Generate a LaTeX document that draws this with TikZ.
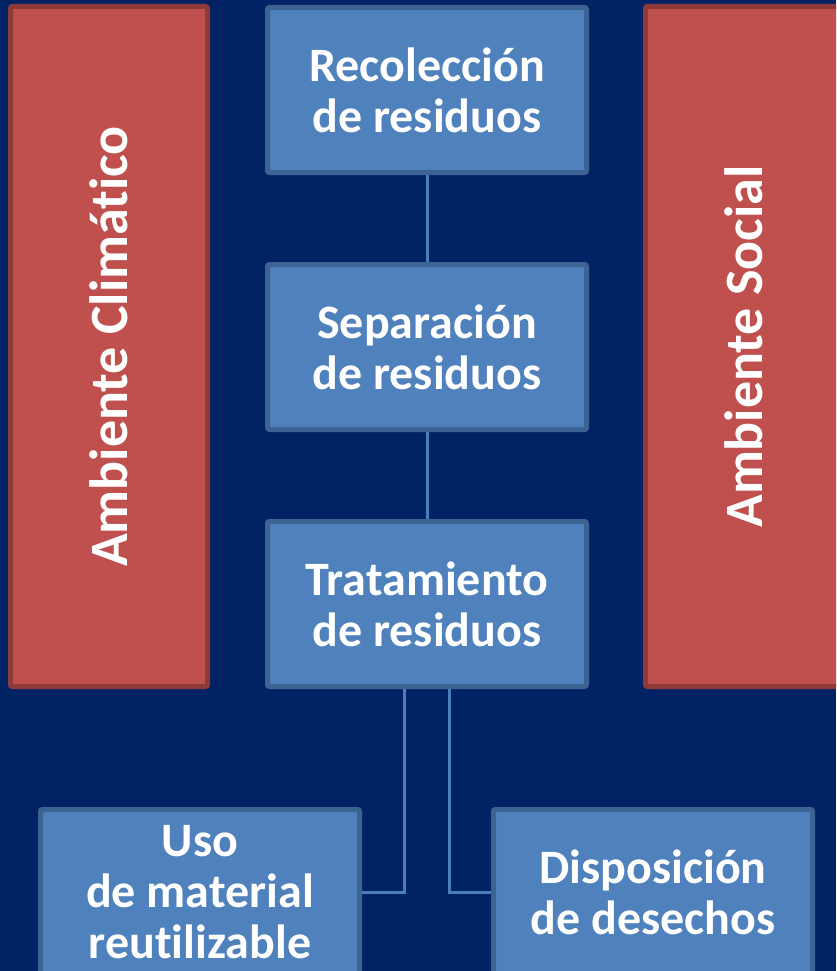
\documentclass[tikz,border=0pt]{standalone}
\usepackage{fontspec}
\setmainfont{Carlito}[Ligatures={NoCommon}]
\definecolor{bg}{HTML}{022266}
\definecolor{bfill}{HTML}{4F81BD}
\definecolor{bline}{HTML}{3C6391}
\definecolor{rfill}{HTML}{C0504D}
\definecolor{rline}{HTML}{8E3A38}
\definecolor{cline}{HTML}{4A7EBB}
\tikzset{
  bluebox/.style={draw=bline, fill=bfill, line width=5pt, rounded corners=2pt,
    minimum width=319pt, minimum height=165pt, inner sep=0pt,
    text=white, align=center, font=\bfseries\fontsize{48}{51}\selectfont},
  redbox/.style={draw=rline, fill=rfill, line width=5pt, rounded corners=2pt,
    minimum width=680pt, minimum height=197pt, inner sep=0pt, rotate=90,
    text=white, align=center, font=\bfseries\fontsize{54}{58}\selectfont},
  conn/.style={draw=cline, line width=3pt}
}
\begin{document}
\begin{tikzpicture}[x=1pt,y=-1pt]
\fill[bg] (0,0) rectangle (836,971);
\useasboundingbox (0,0) rectangle (836,971);
\clip (0,0) rectangle (836,971);
\node[redbox] (rl) at (109,346.5) {Ambiente Climático};
\node[redbox] (rr) at (744,346.5) {Ambiente Social};
\node[bluebox] (b1) at (427,90) {Recolección\\de residuos};
\node[bluebox] (b2) at (427,347) {Separación\\de residuos};
\node[bluebox] (b3) at (427,604) {Tratamiento\\de residuos};
\node[bluebox] (b4) at (200,892) {Uso\\de material\\reutilizable};
\node[bluebox] (b5) at (653,892) {Disposición\\de desechos};
\draw[conn] (b1.south) -- (b2.north);
\draw[conn] (b2.south) -- (b3.north);
\draw[conn] ([xshift=-23pt]b3.south) |- (b4.east);
\draw[conn] ([xshift=22pt]b3.south) |- (b5.west);
\end{tikzpicture}
\end{document}
